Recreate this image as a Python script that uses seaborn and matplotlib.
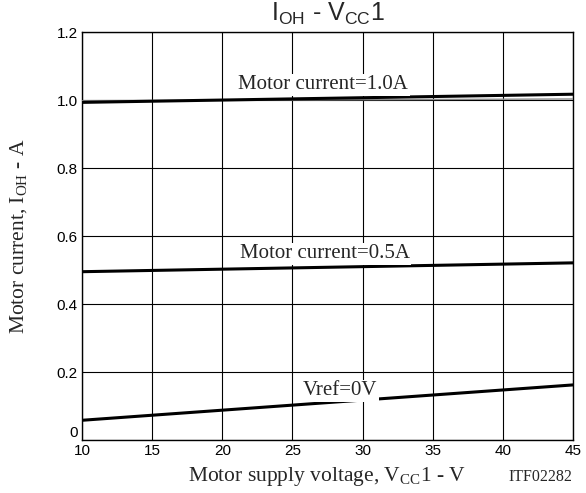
import matplotlib
matplotlib.use("Agg")
import matplotlib.pyplot as plt
import seaborn as sns
import pandas as pd

# Data
vcc = [10, 45]
i_1a = [0.993, 1.017]
i_1a_gray = [0.998, 1.003]
i_05a = [0.495, 0.521]
i_vref0 = [0.058, 0.162]

labels = ["Motor current=1.0A", "Motor current=0.5A", "Vref=0V"]
label_x = [27.2, 27.3, 28.4]
label_y = [1.032, 0.535, 0.132]

xticks = [10, 15, 20, 25, 30, 35, 40, 45]
yticks = [0, 0.2, 0.4, 0.6, 0.8, 1.0, 1.2]
yticklabels = ["0", "0.2", "0.4", "0.6", "0.8", "1.0", "1.2"]

sns.set_style("white")
plt.rcParams["font.family"] = ["Liberation Sans", "DejaVu Sans"]

df = pd.DataFrame({
    "V": vcc * 3,
    "I": i_1a + i_05a + i_vref0,
    "s": ["1.0A"] * 2 + ["0.5A"] * 2 + ["0V"] * 2,
})
dfg = pd.DataFrame({"V": vcc, "I": i_1a_gray})

fig = plt.figure(figsize=(5.86, 4.93), dpi=100)
ax = fig.add_axes([82 / 586, 53 / 493, 491 / 586, 408 / 493])

sns.lineplot(data=dfg, x="V", y="I", ax=ax, color="#888888", lw=1.0, zorder=3)
sns.lineplot(data=df, x="V", y="I", units="s", estimator=None, ax=ax,
             color="black", lw=2.2, zorder=4)

ax.set_xlim(10, 45)
ax.set_ylim(0, 1.2)
ax.set_xticks(xticks)
ax.set_yticks(yticks)
ax.set_yticklabels(yticklabels)
ax.grid(True, color="black", lw=0.8)
ax.set_axisbelow(True)
ax.tick_params(length=0, labelsize=11, pad=3, colors="black")
ax.get_yticklabels()[0].set_va("bottom")
for s in ax.spines.values():
    s.set_color("black")
    s.set_linewidth(1.0)

for t, x, y in zip(labels, label_x, label_y):
    ax.text(x, y, t, ha="center", va="baseline", fontsize=15,
            family="Liberation Serif", zorder=5,
            bbox=dict(facecolor="white", edgecolor="none", pad=1.0))

ax.set_xlabel("Motor supply voltage, $\\mathregular{V_{CC}1}$ - V",
              family="Liberation Serif", fontsize=15.5)
ax.xaxis.set_label_coords(0.5, -(477 - 440) / 408, transform=ax.transAxes)
ax.xaxis.label.set_va("center")
ax.set_ylabel("Motor current, $\\mathregular{I_{OH}}$ - A",
              family="Liberation Serif", fontsize=15.5)
ax.yaxis.set_label_coords(-(82 - 19) / 491, 0.5, transform=ax.transAxes)
ax.yaxis.label.set_va("center")
fig.text(540 / 586, 1 - 477 / 493, "ITF02282", family="Liberation Serif",
         fontsize=11.5, ha="center", va="center")
fig.text(328 / 586, 1 - 14 / 493, "$\\mathregular{I_{OH}}$ - $\\mathregular{V_{CC}1}$",
         fontsize=18, ha="center", va="center")

fig.savefig("out.png", dpi=100)
